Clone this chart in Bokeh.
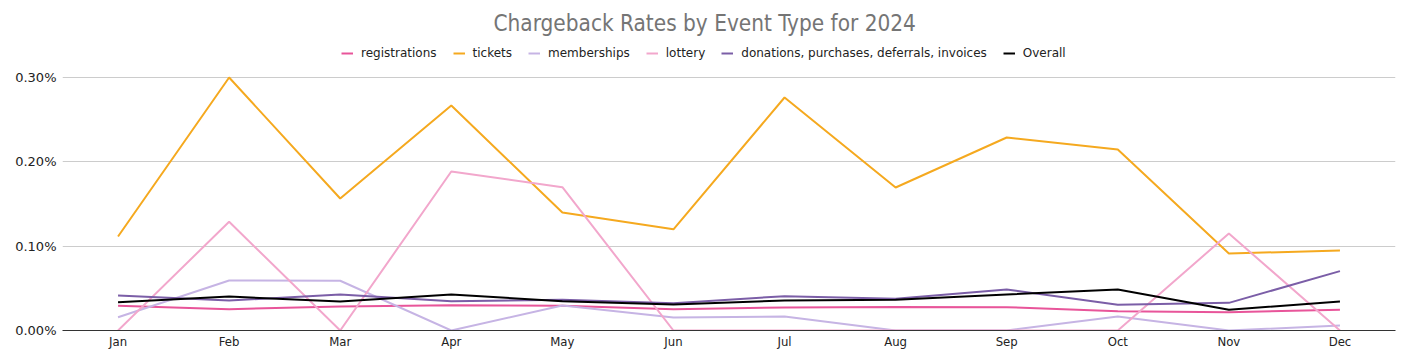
from bokeh.plotting import figure
from bokeh.models import FactorRange, Legend, LegendItem, NumeralTickFormatter, Range1d
from bokeh.embed import file_html
from bokeh.resources import INLINE

months = ["Jan", "Feb", "Mar", "Apr", "May", "Jun", "Jul", "Aug", "Sep", "Oct", "Nov", "Dec"]

# rates in percent
registrations = [0.0293, 0.0253, 0.0285, 0.0300, 0.0293, 0.0253, 0.0273, 0.0280, 0.0277, 0.0229, 0.0217, 0.0245]
tickets = [0.1115, 0.3000, 0.1565, 0.2668, 0.1400, 0.1200, 0.2763, 0.1696, 0.2289, 0.2146, 0.0913, 0.0949]
memberships = [0.0158, 0.0593, 0.0590, 0.0, 0.0296, 0.0154, 0.0166, 0.0, 0.0, 0.0166, 0.0, 0.0059]
lottery = [0.0, 0.1290, 0.0, 0.1885, 0.1700, 0.0, 0.0, 0.0, 0.0, 0.0, 0.1150, 0.0]
donations = [0.0415, 0.0356, 0.0427, 0.0348, 0.0364, 0.0324, 0.0407, 0.0376, 0.0486, 0.0304, 0.0328, 0.0704]
overall = [0.0336, 0.0403, 0.0344, 0.0427, 0.0348, 0.0308, 0.0356, 0.0364, 0.0427, 0.0486, 0.0245, 0.0344]

y_ticks = [0.0, 0.001, 0.002, 0.003]

series_names = ["registrations", "tickets", "memberships", "lottery",
                "donations, purchases, deferrals, invoices", "Overall"]
series_values = [registrations, tickets, memberships, lottery, donations, overall]
colors = ["#e8559a", "#f5a91f", "#c6b4e4", "#f2a7cc", "#7b5ea7", "#000000"]

p = figure(width=1396, height=356, x_range=FactorRange(factors=months),
           y_range=Range1d(0, 0.003439), output_backend="svg", toolbar_location=None,
           min_border_left=62, min_border_right=1, min_border_bottom=26, min_border_top=40)

p.title.text = "Chargeback Rates by Event Type for 2024"
p.title.align = "left"
p.title.offset = 431
p.title.text_font = "DejaVu Sans Condensed"
p.title.text_font_style = "normal"
p.title.text_font_size = "22.4px"
p.title.text_color = "#757575"
p.title.standoff = 9

items = []
for name, vals, c in zip(series_names, series_values, colors):
    r = p.line(months, [v / 100 for v in vals], line_color=c, line_width=2)
    items.append(LegendItem(label=name, renderers=[r]))

legend = Legend(items=items, orientation="horizontal", location=(279, 270),
                label_text_font="DejaVu Sans", label_text_font_size="12px",
                label_text_color="#222222", glyph_width=12, glyph_height=4,
                label_standoff=8, spacing=16, padding=4, margin=0,
                border_line_color=None, background_fill_alpha=0)
p.add_layout(legend)

p.yaxis.formatter = NumeralTickFormatter(format="0.00%")
p.yaxis.ticker = y_ticks
p.yaxis.axis_line_color = None
p.yaxis.major_tick_line_color = None
p.yaxis.major_tick_out = 0
p.yaxis.minor_tick_line_color = None
p.yaxis.major_label_text_font = "DejaVu Sans"
p.yaxis.major_label_text_font_size = "13px"
p.yaxis.major_label_text_color = "#222222"
p.yaxis.major_label_standoff = 6

p.xaxis.axis_line_color = "#333333"
p.xaxis.axis_line_width = 1
p.xaxis.major_tick_line_color = None
p.xaxis.major_tick_out = 0
p.xaxis.minor_tick_line_color = None
p.xaxis.major_label_text_font = "DejaVu Sans Condensed"
p.xaxis.major_label_text_font_size = "13px"
p.xaxis.major_label_text_color = "#222222"
p.xaxis.major_label_standoff = 3

p.xgrid.grid_line_color = None
p.ygrid.grid_line_color = "#cccccc"
p.outline_line_color = None
p.x_range.range_padding = 0

open("out.html", "w").write(file_html(p, INLINE))
